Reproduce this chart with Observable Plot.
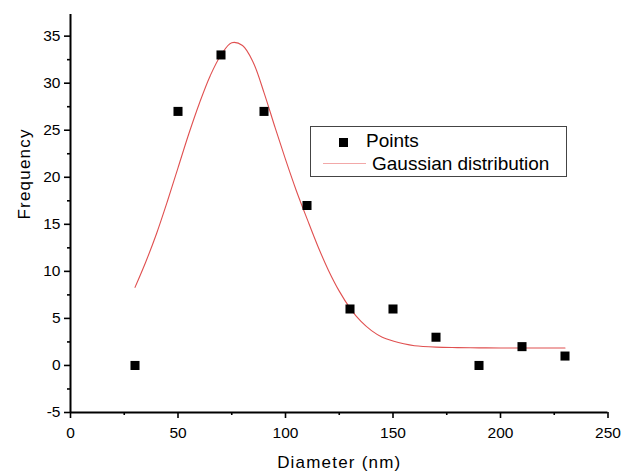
<!DOCTYPE html>
<html>
<head>
<meta charset="utf-8">
<script src="https://cdn.jsdelivr.net/npm/d3@7"></script>
<script src="https://cdn.jsdelivr.net/npm/@observablehq/plot@0.6"></script>
<style>
  html, body { margin: 0; padding: 0; background: #fff; }
  #wrap { position: relative; width: 625px; height: 472px; font-family: "Liberation Sans", Arial, sans-serif; }
  #legend { position: absolute; left: 310px; top: 126px; width: 255px; height: 49px; border: 1px solid #444; background: #fff; }
  #legend .sq { position: absolute; left: 28px; top: 11px; width: 9px; height: 9px; background: #000; }
  #legend .ln { position: absolute; left: 12px; top: 36px; width: 43px; height: 0; border-top: 1px solid #f2a8a8; }
  #legend .t { position: absolute; font-size: 19px; color: #000; line-height: 1; white-space: nowrap; }
</style>
</head>
<body>
<div id="wrap">
  <div id="chart"></div>
  <div id="legend">
    <div class="sq"></div>
    <div class="t" style="left:55px; top:4px;">Points</div>
    <div class="ln"></div>
    <div class="t" style="left:61px; top:27px;">Gaussian distribution</div>
  </div>
</div>
<script>
// Measured points
const diameter = [30, 50, 70, 90, 110, 130, 150, 170, 190, 210, 230];
const frequency = [0, 27, 33, 27, 17, 6, 6, 3, 0, 2, 1];

// Gaussian fit curve
const fitX = [30, 35, 40, 45, 50, 55, 60, 65, 70, 75, 80, 85, 90, 95, 100, 105, 110, 115, 120, 125, 130, 135, 140, 145, 150, 155, 160, 170, 180, 190, 200, 215, 230];
const fitY = [8.3, 11.0, 14.0, 17.4, 21.0, 24.6, 27.9, 30.8, 33.0, 34.3, 34.0, 32.2, 29.0, 25.4, 21.9, 18.6, 15.6, 12.7, 10.1, 7.9, 6.1, 4.7, 3.7, 3.0, 2.6, 2.3, 2.1, 1.95, 1.9, 1.87, 1.86, 1.85, 1.85];

// Ticks
const xTicks = [0, 50, 100, 150, 200, 250];
const xMinor = [25, 75, 125, 175, 225];
const yTicks = [-5, 0, 5, 10, 15, 20, 25, 30, 35];
const yMinor = [-2.5, 2.5, 7.5, 12.5, 17.5, 22.5, 27.5, 32.5];

const points = diameter.map((d, i) => ({x: d, y: frequency[i]}));
const curve = fitX.map((d, i) => ({x: d, y: fitY[i]}));

const chart = Plot.plot({
  width: 625,
  height: 472,
  marginLeft: 70,
  marginRight: 17.5,
  marginTop: 14,
  marginBottom: 60,
  style: {fontFamily: "'Liberation Sans', Arial, sans-serif", fontSize: "15px", color: "#000", background: "#fff"},
  x: {domain: [0, 250]},
  y: {domain: [-5, 37.3]},
  marks: [
    Plot.axisX({ticks: xTicks, tickSize: 6, tickPadding: 8, tickFormat: d => String(d), label: null, strokeWidth: 1.6, fontSize: 15.5}),
    Plot.axisX({ticks: xMinor, tickSize: 3, text: null, label: null, strokeWidth: 1.6}),
    Plot.axisY({ticks: yTicks, tickSize: 6, tickPadding: 4, tickFormat: d => String(d), label: null, strokeWidth: 1.6, fontSize: 15.5}),
    Plot.axisY({ticks: yMinor, tickSize: 3, text: null, label: null, strokeWidth: 1.6}),
    Plot.ruleX([0], {stroke: "#000", strokeWidth: 2}),
    Plot.ruleY([-5], {stroke: "#000", strokeWidth: 2}),
    Plot.line(curve, {x: "x", y: "y", stroke: "#e05050", strokeWidth: 1.1, curve: "catmull-rom"}),
    Plot.dot(points, {x: "x", y: "y", symbol: "square", r: 5.1, fill: "#000", stroke: "none"}),
    Plot.text(["Diameter (nm)"], {frameAnchor: "bottom", dy: 55, lineAnchor: "bottom", fontSize: 17, fill: "#000"}),
    Plot.text(["Frequency"], {frameAnchor: "left", rotate: -90, dx: -41, dy: 6, lineAnchor: "bottom", fontSize: 17, fill: "#000"})
  ]
});
d3.select(chart).selectAll("text").filter(function() { return this.textContent === "Diameter (nm)" || this.textContent === "Frequency"; }).style("letter-spacing", "1.2px");
document.getElementById("chart").appendChild(chart);
</script>
</body>
</html>
